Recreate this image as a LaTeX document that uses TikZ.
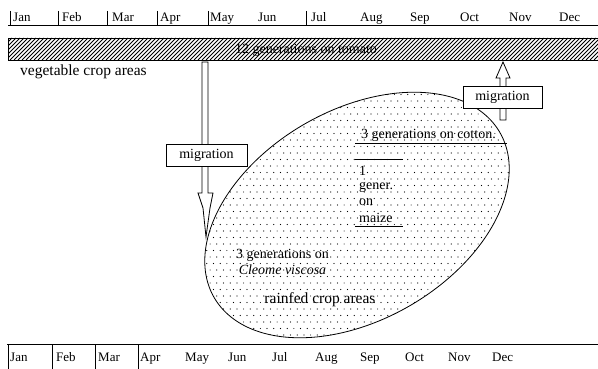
\documentclass[tikz,border=0pt]{standalone}
\usepackage{fontspec}
\setmainfont{Liberation Serif}
\begin{document}
\begin{tikzpicture}[x=1pt,y=-1pt,
  month/.style={font=\fontsize{13}{15}\selectfont, anchor=base west, inner sep=0pt},
  gen/.style={font=\fontsize{14}{16}\selectfont, inner sep=0pt},
  area/.style={font=\fontsize{15.5}{18}\selectfont, inner sep=0pt},
  migbox/.style={draw, fill=white, line width=0.8pt, minimum width=81pt, minimum height=22pt, inner sep=0pt, font=\fontsize{14}{16}\selectfont},
  ax/.style={line width=0.8pt},
  hollow/.style={draw, fill=white, line width=0.8pt},
  rule/.style={line width=0.7pt}]
\useasboundingbox (0,0) rectangle (598,369);
\fill[white] (0,0) rectangle (598,369);

% top month axis
\draw[ax] (8,25) -- (598,25);
\foreach \x in {10,58,107,157,208,306} \draw[ax] (\x,11) -- (\x,25);
\foreach \m/\x in {Jan/13,Feb/62,Mar/112,Apr/160,May/210,Jun/258,Jul/311,Aug/360,Sep/410,Oct/460,Nov/509,Dec/559}
  \node[month] (t\m) at (\x,22) {\m};

% hatched tomato bar
\begin{scope}
  \clip (8,38) rectangle (598,60);
  \foreach \i in {0,...,155} \draw[line width=0.8pt] ({\i*4.0-14},60) -- ++(22,-22);
\end{scope}
\draw[line width=0.9pt] (8,38) rectangle (598,60);
\node[gen] (tomato) at (306,50) {12 generations on tomato};
\node[area, anchor=west] (veg) at (20,72) {vegetable crop areas};

% dotted ellipse (rainfed crop areas)
\begin{scope}
  \clip plot[domain=0:357.5,samples=144,smooth cycle,variable=\t]
    ({357+142.9*cos(\t)-52.5*sin(\t)},{215-82.5*cos(\t)-90.93*sin(\t)});
  \foreach \r in {0,...,40} {
    \foreach \c in {0,...,48} {
      \fill ({190+\c*6.7+mod(\r,2)*3.35},{88+\r*6.5}) circle (0.6);
    }
  }
\end{scope}
\draw[line width=0.8pt] plot[domain=0:357.5,samples=144,smooth cycle,variable=\t]
    ({357+142.9*cos(\t)-52.5*sin(\t)},{215-82.5*cos(\t)-90.93*sin(\t)});

% texts inside ellipse
\node[gen] (cotton) at (428.5,135) {3 generations on cotton.};
\draw[rule] (355,143) -- (507,143);
\draw[rule] (355,159) -- (403,159);
\node[gen, anchor=west] (one) at (359,171) {1};
\node[gen, anchor=west] (gener) at (359,187) {gener.};
\node[gen, anchor=west] (on) at (359,202) {on};
\node[gen, anchor=west] (maize) at (359,218) {maize};
\draw[rule] (355,226) -- (403,226);
\node[gen] (cleomeA) at (282.5,255) {3 generations on};
\node[gen, font=\fontsize{14}{16}\selectfont\itshape] (cleomeB) at (282.5,270) {Cleome viscosa};
\node[area] (rain) at (320,300) {rainfed crop areas};

% migration arrows
\draw[hollow] (202,62) -- (208,62) -- (208,193) -- (213,193) -- (210,208) -- (206,237)
  -- (203,208) -- (198,193) -- (202,193) -- cycle;
\node[migbox] (migA) at (206.5,155) {migration};
\draw[hollow] (500,120) -- (500,78) -- (496,78) -- (503,62) -- (510,78) -- (506,78) -- (506,120) -- cycle;
\node[migbox, minimum width=79pt] (migB) at (502.5,97) {migration};

% bottom month axis
\draw[ax] (7,344) -- (598,344);
\foreach \x in {8,52,95,138} \draw[ax] (\x,344) -- (\x,369);
\foreach \m/\x in {Jan/10,Feb/56,Mar/98,Apr/140,May/185,Jun/228,Jul/272,Aug/315,Sep/360,Oct/405,Nov/448,Dec/492}
  \node[month] (b\m) at (\x,361) {\m};
\end{tikzpicture}
\end{document}
